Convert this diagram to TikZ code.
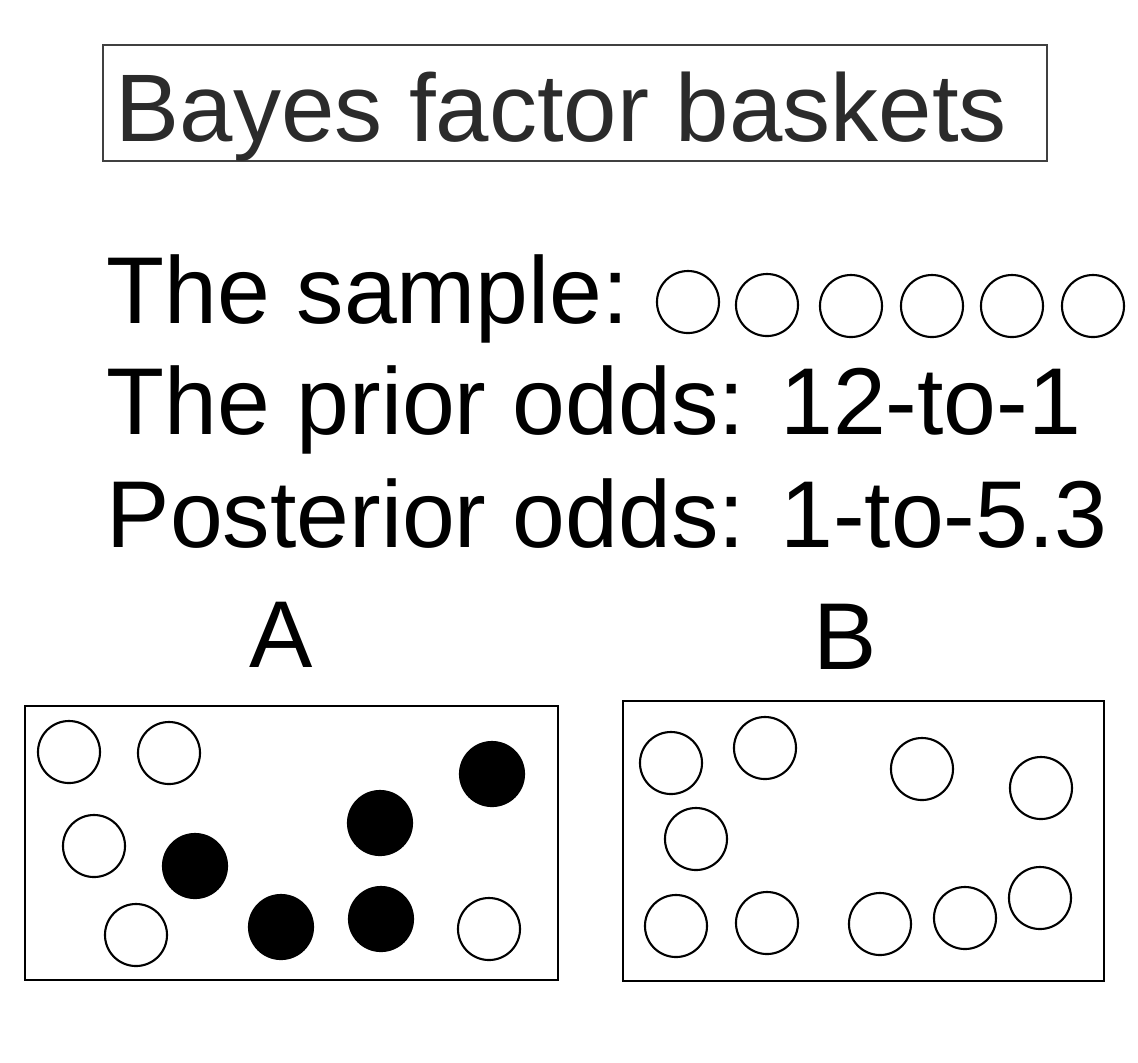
\documentclass[tikz,border=0pt]{standalone}
\usepackage{fontspec}
\setmainfont{Liberation Sans}
\definecolor{titlegray}{HTML}{2B2B2B}
\definecolor{framegray}{HTML}{404040}
\begin{document}
\begin{tikzpicture}[x=0.01cm,y=-0.01cm]
    \tikzstyle{every node}=[inner sep=0pt];
    \tikzstyle{txt}=[anchor=base west,font=\fontsize{27}{32}\selectfont];
    \tikzstyle{letter}=[anchor=base,font=\fontsize{27}{32}\selectfont];
    \tikzstyle{ball}=[draw,shape=circle,line width=0.6pt,minimum size=0.62cm];
    \tikzstyle{blackball}=[ball,fill=black,minimum size=0.64cm];
    \useasboundingbox (0,0) rectangle (1138,1062);
    %title
    \draw[framegray,line width=0.5pt] (103,45) rectangle (1047,161);
    \node[txt,text=titlegray,font=\fontsize{27.3}{32}\selectfont] (title) at (115,141) {Bayes factor baskets};
    %sample and odds
    \node[txt] (sample) at (106,323) {The sample:};
    \node[ball] (s1) at (688,302) {};
    \node[ball] (s2) at (767,305) {};
    \node[ball] (s3) at (851,306) {};
    \node[ball] (s4) at (932,306) {};
    \node[ball] (s5) at (1012,306) {};
    \node[ball] (s6) at (1093,306) {};
    \node[txt] (prior) at (106,434) {The prior odds: 12-to-1};
    \node[txt] (post) at (106,547) {Posterior odds: 1-to-5.3};
    %basket A
    \node[letter] (la) at (281,667) {A};
    \draw[line width=0.5pt] (25,706) rectangle (558,980);
    \node[ball] (a1) at (69,752) {};
    \node[ball] (a2) at (169,753) {};
    \node[ball] (a3) at (94,846) {};
    \node[blackball] (a4) at (195,866) {};
    \node[ball] (a5) at (136,935) {};
    \node[blackball] (a6) at (281,927) {};
    \node[blackball] (a7) at (380,823) {};
    \node[blackball] (a8) at (381,919) {};
    \node[blackball] (a9) at (492,774) {};
    \node[ball] (a10) at (489,929) {};
    %basket B
    \node[letter] (lb) at (845,669) {B};
    \draw[line width=0.5pt] (623,701) rectangle (1104,981);
    \node[ball] (b1) at (671,763) {};
    \node[ball] (b2) at (765,748) {};
    \node[ball] (b3) at (922,769) {};
    \node[ball] (b4) at (1041,788) {};
    \node[ball] (b5) at (696,839) {};
    \node[ball] (b6) at (676,926) {};
    \node[ball] (b7) at (767,923) {};
    \node[ball] (b8) at (880,924) {};
    \node[ball] (b9) at (965,918) {};
    \node[ball] (b10) at (1040,898) {};
\end{tikzpicture}
\end{document}
